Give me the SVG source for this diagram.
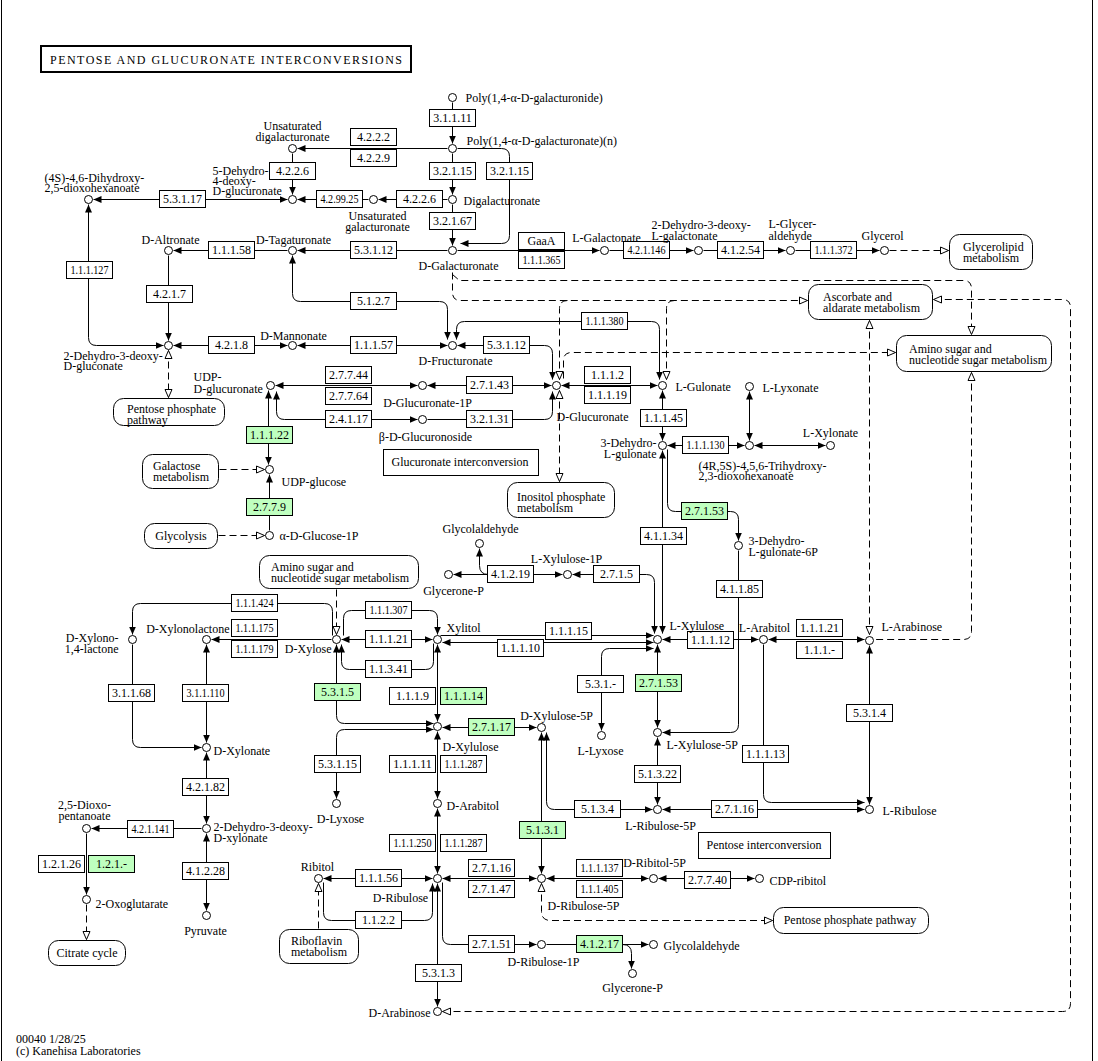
<svg xmlns="http://www.w3.org/2000/svg" width="1098" height="1061" viewBox="0 0 1098 1061">
<style>
text{font-family:"Liberation Serif","Times New Roman",serif;font-size:12px;fill:#000}
.c{fill:none;stroke:#000;stroke-width:1}
.e{marker-end:url(#a)}
.b{marker-start:url(#a);marker-end:url(#a)}
.d{stroke-dasharray:7,4}
.he{marker-end:url(#h)}
.hb{marker-start:url(#h);marker-end:url(#h)}
.hs{marker-start:url(#h)}
.enz rect{fill:#fff;stroke:#000;stroke-width:1}
.enz.g rect{fill:#bfffbf}
.enz text{text-anchor:middle}
.cpd circle{fill:#fff;stroke:#000;stroke-width:1}
.map rect{fill:#fff;stroke:#000;stroke-width:1}
.m{text-anchor:middle}
.r{text-anchor:end}
</style>
<defs>
<marker id="a" viewBox="0 0 8 7" refX="8" refY="3.5" markerWidth="8" markerHeight="7" markerUnits="userSpaceOnUse" orient="auto-start-reverse"><path d="M0,0L8,3.5L0,7z" fill="#000"/></marker>
<marker id="h" viewBox="-1 -1 10 9" refX="8" refY="3.5" markerWidth="10" markerHeight="9" markerUnits="userSpaceOnUse" orient="auto-start-reverse"><path d="M0,0L8,3.5L0,7z" fill="#fff" stroke="#000" stroke-width="1"/></marker>
</defs>
<rect width="1098" height="1061" fill="#fff"/>
<path d="M1.5,0V1061M1092.5,0V1061" stroke="#000" fill="none"/>
<g id="title"><rect x="41" y="46" width="370" height="26" fill="#fff" stroke="#000" stroke-width="2"/><text x="226" y="64" class="m" textLength="352" lengthAdjust="spacing">PENTOSE AND GLUCURONATE INTERCONVERSIONS</text></g>
<g id="connectors" transform="translate(0.5,0.5)">
<path class="c e" d="M452,102V143"/>
<path class="c e" d="M447,148H297"/>
<path class="c e" d="M292,153V194"/>
<path class="c e" d="M452,153V194"/>
<path class="c e" d="M457,148H501Q509,148 509,156V235Q509,243 501,243H460"/>
<path class="c e" d="M447,199H378"/>
<path class="c e" d="M368,199H297"/>
<path class="c b" d="M287,199H93"/>
<path class="c e" d="M452,204V245"/>
<path class="c e" d="M447,250H297"/>
<path class="c e" d="M287,250H173"/>
<path class="c e" d="M457,250H599"/>
<path class="c e" d="M609,250H693"/>
<path class="c e" d="M703,250H785"/>
<path class="c e" d="M795,250H879"/>
<path class="c b" d="M88,204V337Q88,345 96,345H163"/>
<path class="c e" d="M168,255V340"/>
<path class="c b" d="M287,345H173"/>
<path class="c b" d="M447,345H297"/>
<path class="c b" d="M292,255V293Q292,301 300,301H439Q447,301 447,309V339"/>
<path class="c b" d="M456,339V329Q456,321 464,321H651Q659,321 659,329V379"/>
<path class="c b" d="M457,345H544Q552,345 552,353V379"/>
<path class="c b" d="M417,385H275"/>
<path class="c b" d="M551,385H427"/>
<path class="c b" d="M561,385H657"/>
<path class="c b" d="M417,419H284Q276,419 276,411V391"/>
<path class="c e" d="M427,419H544Q552,419 552,411V391"/>
<path class="c b" d="M662,390V440"/>
<path class="c b" d="M667,445H744"/>
<path class="c b" d="M749,391V440"/>
<path class="c b" d="M754,445H825"/>
<path class="c e" d="M667,449V503Q667,511 675,511H730Q738,511 738,519V540"/>
<path class="c b" d="M662,450V633"/>
<path class="c e" d="M738,550V724Q738,732 730,732H662"/>
<path class="c b" d="M562,574H453"/>
<path class="c e" d="M488,574Q479,574 479,565V548"/>
<path class="c b" d="M654,633V582Q654,574 646,574H572"/>
<path class="c e" d="M332,635V611Q332,603 324,603H140Q132,603 132,611V634"/>
<path class="c e" d="M331,639H211"/>
<path class="c e" d="M343,635V618Q343,610 351,610H429Q437,610 437,618V634"/>
<path class="c b" d="M341,639H432"/>
<path class="c e" d="M433,643V661Q433,669 425,669H349Q341,669 341,661V644"/>
<path class="c b" d="M336,644V715Q336,723 344,723H433"/>
<path class="c b" d="M433,729H344Q336,729 336,737V798"/>
<path class="c b" d="M437,644V721"/>
<path class="c e" d="M440,635H653"/>
<path class="c b" d="M653,642H442"/>
<path class="c b" d="M662,639H758"/>
<path class="c b" d="M768,639H864"/>
<path class="c b" d="M653,648H609Q601,648 601,656V730"/>
<path class="c b" d="M657,644V727"/>
<path class="c b" d="M657,737V804"/>
<path class="c b" d="M869,804V645"/>
<path class="c e" d="M763,644V794Q763,802 771,802H864"/>
<path class="c b" d="M662,809H864"/>
<path class="c b" d="M652,809H554Q546,809 546,801V732"/>
<path class="c b" d="M442,727H536"/>
<path class="c b" d="M541,732V873"/>
<path class="c b" d="M437,731V798"/>
<path class="c b" d="M437,808V873"/>
<path class="c b" d="M323,878H432"/>
<path class="c e" d="M323,882V912Q323,920 331,920H424Q432,920 432,912V883"/>
<path class="c b" d="M437,883V1006"/>
<path class="c b" d="M442,878H536"/>
<path class="c b" d="M546,878H648"/>
<path class="c b" d="M658,878H754"/>
<path class="c e" d="M442,882V936Q442,944 450,944H536"/>
<path class="c e" d="M546,944H648"/>
<path class="c e" d="M622,944Q631,944 631,953V968"/>
<path class="c b" d="M268,464V390"/>
<path class="c e" d="M269,530V474"/>
<path class="c e" d="M132,644V739Q132,747 140,747H201"/>
<path class="c b" d="M206,644V742"/>
<path class="c b" d="M206,752V823"/>
<path class="c e" d="M201,828H91"/>
<path class="c e" d="M86,833V894"/>
<path class="c b" d="M206,833V910"/>
<path class="c d he" d="M889,250H948"/>
<path class="c d hb" d="M442,1011H1062Q1070,1011 1070,1003V307Q1070,299 1062,299H933"/>
<path class="c d hb" d="M869,320V634"/>
<path class="c d hs" d="M971,372V631Q971,639 963,639H874"/>
<path class="c d he" d="M452,274L459,280H963Q971,280 971,288V334"/>
<path class="c d he" d="M452,272V292Q452,300 460,300H807"/>
<path class="c d hs" d="M559,379V308Q559,300 567,300"/>
<path class="c d hs" d="M666,379V308Q666,300 674,300"/>
<path class="c d he" d="M563,378V360Q563,352 571,352H895"/>
<path class="c d hb" d="M559,390V481"/>
<path class="c d hb" d="M168,350V397"/>
<path class="c d he" d="M219,469H264"/>
<path class="c d he" d="M218,535H264"/>
<path class="c d he" d="M336,589V634"/>
<path class="c d he" d="M318,928V883"/>
<path class="c d hb" d="M541,883V911Q541,920 550,920H772"/>
<path class="c d he" d="M86,904V939"/>
</g>
<g id="maps">
<g id="m-glycerolipid" class="map"><rect x="949.5" y="234.5" width="83" height="35" rx="10"/><text x="963" y="251">Glycerolipid</text><text x="963" y="262">metabolism</text></g>
<g id="m-ascorbate" class="map"><rect x="808.5" y="284.5" width="124" height="35" rx="10"/><text x="823" y="301">Ascorbate and</text><text x="823" y="312">aldarate metabolism</text></g>
<g id="m-aminosugar1" class="map"><rect x="896.5" y="335.5" width="155" height="36" rx="10"/><text x="909" y="353">Amino sugar and</text><text x="909" y="364">nucleotide sugar metabolism</text></g>
<g id="m-ppp1" class="map"><rect x="113.5" y="398.5" width="111" height="27" rx="10"/><text x="127" y="413">Pentose phosphate</text><text x="127" y="424">pathway</text></g>
<g id="m-inositol" class="map"><rect x="507.5" y="482.5" width="107" height="35" rx="10"/><text x="517" y="501">Inositol phosphate</text><text x="517" y="512">metabolism</text></g>
<g id="m-galactose" class="map"><rect x="142.5" y="454.5" width="76" height="34" rx="10"/><text x="153" y="470">Galactose</text><text x="153" y="481">metabolism</text></g>
<g id="m-glycolysis" class="map"><rect x="144.5" y="523.5" width="73" height="25" rx="10"/><text x="181" y="540" class="m">Glycolysis</text></g>
<g id="m-aminosugar2" class="map"><rect x="259.5" y="555.5" width="159" height="33" rx="10"/><text x="271" y="571">Amino sugar and</text><text x="271" y="582">nucleotide sugar metabolism</text></g>
<g id="m-citrate" class="map"><rect x="48.5" y="940.5" width="77" height="25" rx="10"/><text x="87" y="957" class="m">Citrate cycle</text></g>
<g id="m-riboflavin" class="map"><rect x="279.5" y="929.5" width="79" height="34" rx="10"/><text x="291" y="945">Riboflavin</text><text x="291" y="956">metabolism</text></g>
<g id="m-ppp2" class="map"><rect x="773.5" y="907.5" width="155" height="26" rx="10"/><text x="850" y="924" class="m">Pentose phosphate pathway</text></g>
<g id="l-glucuronate"><rect x="383.5" y="449.5" width="155" height="26" fill="#fff" stroke="#000"/><text x="460" y="466" class="m">Glucuronate interconversion</text></g>
<g id="l-pentose"><rect x="698.5" y="832.5" width="132" height="26" fill="#fff" stroke="#000"/><text x="764" y="849" class="m">Pentose interconversion</text></g>
</g>
<g id="enzymes" transform="translate(0.5,0)">
<g id="e1" class="enz"><rect x="429" y="109.5" width="46" height="17"/><text x="452" y="122">3.1.1.11</text></g>
<g id="e2" class="enz"><rect x="350" y="128.5" width="46" height="17"/><text x="373" y="141">4.2.2.2</text></g>
<g id="e3" class="enz"><rect x="350" y="149.5" width="46" height="17"/><text x="373" y="162">4.2.2.9</text></g>
<g id="e4" class="enz"><rect x="429" y="162.5" width="46" height="17"/><text x="452" y="175">3.2.1.15</text></g>
<g id="e5" class="enz"><rect x="486" y="162.5" width="46" height="17"/><text x="509" y="175">3.2.1.15</text></g>
<g id="e6" class="enz"><rect x="269" y="162.5" width="46" height="17"/><text x="292" y="175">4.2.2.6</text></g>
<g id="e7" class="enz"><rect x="396" y="190.5" width="46" height="17"/><text x="419" y="203">4.2.2.6</text></g>
<g id="e8" class="enz"><rect x="316" y="190.5" width="46" height="17"/><text x="339" y="203" textLength="38" lengthAdjust="spacingAndGlyphs">4.2.99.25</text></g>
<g id="e9" class="enz"><rect x="159" y="190.5" width="46" height="17"/><text x="182" y="203">5.3.1.17</text></g>
<g id="e10" class="enz"><rect x="429" y="212.5" width="46" height="17"/><text x="452" y="225">3.2.1.67</text></g>
<g id="e11" class="enz"><rect x="350" y="241.5" width="46" height="17"/><text x="373" y="254">5.3.1.12</text></g>
<g id="e12" class="enz"><rect x="208" y="241.5" width="46" height="17"/><text x="231" y="254">1.1.1.58</text></g>
<g id="e13" class="enz"><rect x="518" y="232.5" width="46" height="17"/><text x="541" y="245">GaaA</text></g>
<g id="e14" class="enz"><rect x="518" y="251.5" width="46" height="17"/><text x="541" y="264" textLength="38" lengthAdjust="spacingAndGlyphs">1.1.1.365</text></g>
<g id="e15" class="enz"><rect x="623" y="241.5" width="46" height="17"/><text x="646" y="254" textLength="38" lengthAdjust="spacingAndGlyphs">4.2.1.146</text></g>
<g id="e16" class="enz"><rect x="717" y="241.5" width="46" height="17"/><text x="740" y="254">4.1.2.54</text></g>
<g id="e17" class="enz"><rect x="810" y="241.5" width="46" height="17"/><text x="833" y="254" textLength="38" lengthAdjust="spacingAndGlyphs">1.1.1.372</text></g>
<g id="e18" class="enz"><rect x="66" y="261.5" width="46" height="17"/><text x="89" y="274" textLength="38" lengthAdjust="spacingAndGlyphs">1.1.1.127</text></g>
<g id="e19" class="enz"><rect x="146" y="285.5" width="46" height="17"/><text x="169" y="298">4.2.1.7</text></g>
<g id="e20" class="enz"><rect x="350" y="292.5" width="46" height="17"/><text x="373" y="305">5.1.2.7</text></g>
<g id="e21" class="enz"><rect x="581" y="312.5" width="46" height="17"/><text x="604" y="325" textLength="38" lengthAdjust="spacingAndGlyphs">1.1.1.380</text></g>
<g id="e22" class="enz"><rect x="208" y="336.5" width="46" height="17"/><text x="231" y="349">4.2.1.8</text></g>
<g id="e23" class="enz"><rect x="350" y="336.5" width="46" height="17"/><text x="373" y="349">1.1.1.57</text></g>
<g id="e24" class="enz"><rect x="483" y="336.5" width="46" height="17"/><text x="506" y="349">5.3.1.12</text></g>
<g id="e25" class="enz"><rect x="325" y="366.5" width="46" height="17"/><text x="348" y="379">2.7.7.44</text></g>
<g id="e26" class="enz"><rect x="325" y="387.5" width="46" height="17"/><text x="348" y="400">2.7.7.64</text></g>
<g id="e27" class="enz"><rect x="466" y="376.5" width="46" height="17"/><text x="489" y="389">2.7.1.43</text></g>
<g id="e28" class="enz"><rect x="584" y="366.5" width="46" height="17"/><text x="607" y="379">1.1.1.2</text></g>
<g id="e29" class="enz"><rect x="584" y="386.5" width="46" height="17"/><text x="607" y="399">1.1.1.19</text></g>
<g id="e30" class="enz"><rect x="325" y="410.5" width="46" height="17"/><text x="348" y="423">2.4.1.17</text></g>
<g id="e31" class="enz"><rect x="466" y="410.5" width="46" height="17"/><text x="489" y="423">3.2.1.31</text></g>
<g id="e32" class="enz g"><rect x="246" y="426.5" width="46" height="17"/><text x="269" y="439">1.1.1.22</text></g>
<g id="e33" class="enz"><rect x="640" y="409.5" width="46" height="17"/><text x="663" y="422">1.1.1.45</text></g>
<g id="e34" class="enz"><rect x="682" y="436.5" width="46" height="17"/><text x="705" y="449" textLength="38" lengthAdjust="spacingAndGlyphs">1.1.1.130</text></g>
<g id="e35" class="enz g"><rect x="246" y="498.5" width="46" height="17"/><text x="269" y="511">2.7.7.9</text></g>
<g id="e36" class="enz g"><rect x="681" y="502.5" width="46" height="17"/><text x="704" y="515">2.7.1.53</text></g>
<g id="e37" class="enz"><rect x="640" y="527.5" width="46" height="17"/><text x="663" y="540">4.1.1.34</text></g>
<g id="e38" class="enz"><rect x="487" y="565.5" width="46" height="17"/><text x="510" y="578">4.1.2.19</text></g>
<g id="e39" class="enz"><rect x="593" y="565.5" width="46" height="17"/><text x="616" y="578">2.7.1.5</text></g>
<g id="e40" class="enz"><rect x="716" y="580.5" width="46" height="17"/><text x="739" y="593">4.1.1.85</text></g>
<g id="e41" class="enz"><rect x="231" y="594.5" width="46" height="17"/><text x="254" y="607" textLength="38" lengthAdjust="spacingAndGlyphs">1.1.1.424</text></g>
<g id="e42" class="enz"><rect x="365" y="601.5" width="46" height="17"/><text x="388" y="614" textLength="38" lengthAdjust="spacingAndGlyphs">1.1.1.307</text></g>
<g id="e43" class="enz"><rect x="231" y="619.5" width="46" height="17"/><text x="254" y="632" textLength="38" lengthAdjust="spacingAndGlyphs">1.1.1.175</text></g>
<g id="e44" class="enz"><rect x="231" y="640.5" width="46" height="17"/><text x="254" y="653" textLength="38" lengthAdjust="spacingAndGlyphs">1.1.1.179</text></g>
<g id="e45" class="enz"><rect x="365" y="630.5" width="46" height="17"/><text x="388" y="643">1.1.1.21</text></g>
<g id="e46" class="enz"><rect x="365" y="660.5" width="46" height="17"/><text x="388" y="673">1.1.3.41</text></g>
<g id="e47" class="enz"><rect x="545" y="622.5" width="46" height="17"/><text x="568" y="635">1.1.1.15</text></g>
<g id="e48" class="enz"><rect x="497" y="639.5" width="46" height="17"/><text x="520" y="652">1.1.1.10</text></g>
<g id="e49" class="enz"><rect x="687" y="631.5" width="46" height="17"/><text x="710" y="644">1.1.1.12</text></g>
<g id="e50" class="enz"><rect x="796" y="619.5" width="46" height="17"/><text x="819" y="632">1.1.1.21</text></g>
<g id="e51" class="enz"><rect x="796" y="641.5" width="46" height="17"/><text x="819" y="654">1.1.1.-</text></g>
<g id="e52" class="enz g"><rect x="314" y="683.5" width="46" height="17"/><text x="337" y="696">5.3.1.5</text></g>
<g id="e53" class="enz"><rect x="389" y="687.5" width="46" height="17"/><text x="412" y="700">1.1.1.9</text></g>
<g id="e54" class="enz g"><rect x="440" y="687.5" width="46" height="17"/><text x="463" y="700">1.1.1.14</text></g>
<g id="e55" class="enz"><rect x="108" y="684.5" width="46" height="17"/><text x="131" y="697">3.1.1.68</text></g>
<g id="e56" class="enz"><rect x="182" y="684.5" width="46" height="17"/><text x="205" y="697" textLength="38" lengthAdjust="spacingAndGlyphs">3.1.1.110</text></g>
<g id="e57" class="enz"><rect x="577" y="675.5" width="46" height="17"/><text x="600" y="688">5.3.1.-</text></g>
<g id="e58" class="enz g"><rect x="635" y="674.5" width="46" height="17"/><text x="658" y="687">2.7.1.53</text></g>
<g id="e59" class="enz"><rect x="846" y="704.5" width="46" height="17"/><text x="869" y="717">5.3.1.4</text></g>
<g id="e60" class="enz g"><rect x="468" y="718.5" width="46" height="17"/><text x="491" y="731">2.7.1.17</text></g>
<g id="e61" class="enz"><rect x="742" y="745.5" width="46" height="17"/><text x="765" y="758">1.1.1.13</text></g>
<g id="e62" class="enz"><rect x="314" y="755.5" width="46" height="17"/><text x="337" y="768">5.3.1.15</text></g>
<g id="e63" class="enz"><rect x="389" y="755.5" width="46" height="17"/><text x="412" y="768">1.1.1.11</text></g>
<g id="e64" class="enz"><rect x="440" y="755.5" width="46" height="17"/><text x="463" y="768" textLength="38" lengthAdjust="spacingAndGlyphs">1.1.1.287</text></g>
<g id="e65" class="enz"><rect x="634" y="765.5" width="46" height="17"/><text x="657" y="778">5.1.3.22</text></g>
<g id="e66" class="enz"><rect x="182" y="778.5" width="46" height="17"/><text x="205" y="791">4.2.1.82</text></g>
<g id="e67" class="enz"><rect x="574" y="800.5" width="46" height="17"/><text x="597" y="813">5.1.3.4</text></g>
<g id="e68" class="enz"><rect x="711" y="800.5" width="46" height="17"/><text x="734" y="813">2.7.1.16</text></g>
<g id="e69" class="enz"><rect x="127" y="820.5" width="46" height="17"/><text x="150" y="833" textLength="38" lengthAdjust="spacingAndGlyphs">4.2.1.141</text></g>
<g id="e70" class="enz g"><rect x="519" y="821.5" width="46" height="17"/><text x="542" y="834">5.1.3.1</text></g>
<g id="e71" class="enz"><rect x="389" y="834.5" width="46" height="17"/><text x="412" y="847" textLength="38" lengthAdjust="spacingAndGlyphs">1.1.1.250</text></g>
<g id="e72" class="enz"><rect x="440" y="834.5" width="46" height="17"/><text x="463" y="847" textLength="38" lengthAdjust="spacingAndGlyphs">1.1.1.287</text></g>
<g id="e73" class="enz"><rect x="38" y="855.5" width="46" height="17"/><text x="61" y="868">1.2.1.26</text></g>
<g id="e74" class="enz g"><rect x="88" y="855.5" width="46" height="17"/><text x="111" y="868">1.2.1.-</text></g>
<g id="e75" class="enz"><rect x="182" y="862.5" width="46" height="17"/><text x="205" y="875">4.1.2.28</text></g>
<g id="e76" class="enz"><rect x="355" y="869.5" width="46" height="17"/><text x="378" y="882">1.1.1.56</text></g>
<g id="e77" class="enz"><rect x="468" y="859.5" width="46" height="17"/><text x="491" y="872">2.7.1.16</text></g>
<g id="e78" class="enz"><rect x="468" y="880.5" width="46" height="17"/><text x="491" y="893">2.7.1.47</text></g>
<g id="e79" class="enz"><rect x="576" y="859.5" width="46" height="17"/><text x="599" y="872" textLength="38" lengthAdjust="spacingAndGlyphs">1.1.1.137</text></g>
<g id="e80" class="enz"><rect x="576" y="880.5" width="46" height="17"/><text x="599" y="893" textLength="38" lengthAdjust="spacingAndGlyphs">1.1.1.405</text></g>
<g id="e81" class="enz"><rect x="684" y="871.5" width="46" height="17"/><text x="707" y="884">2.7.7.40</text></g>
<g id="e82" class="enz"><rect x="355" y="911.5" width="46" height="17"/><text x="378" y="924">1.1.2.2</text></g>
<g id="e83" class="enz"><rect x="468" y="935.5" width="46" height="17"/><text x="491" y="948">2.7.1.51</text></g>
<g id="e84" class="enz g"><rect x="576" y="935.5" width="46" height="17"/><text x="599" y="948">4.1.2.17</text></g>
<g id="e85" class="enz"><rect x="415" y="964.5" width="46" height="17"/><text x="438" y="977">5.3.1.3</text></g>
</g>
<g id="compounds" transform="translate(0.5,0.5)">
<g id="c-polygalacturonide" class="cpd"><circle cx="452" cy="97" r="4"/><text x="465" y="101">Poly(1,4-α-D-galacturonide)</text></g>
<g id="c-polyn" class="cpd"><circle cx="452" cy="148" r="4"/><text x="466" y="144">Poly(1,4-α-D-galacturonate)(n)</text></g>
<g id="c-unsatdigal" class="cpd"><circle cx="292" cy="148" r="4"/><text x="292" y="129" class="m">Unsaturated</text><text x="292" y="140" class="m">digalacturonate</text></g>
<g id="c-5dehydro" class="cpd"><circle cx="292" cy="199" r="4"/><text x="212" y="174">5-Dehydro-</text><text x="212" y="184">4-deoxy-</text><text x="212" y="194">D-glucuronate</text></g>
<g id="c-unsatgal" class="cpd"><circle cx="373" cy="199" r="4"/><text x="377" y="219" class="m">Unsaturated</text><text x="377" y="230" class="m">galacturonate</text></g>
<g id="c-digal" class="cpd"><circle cx="452" cy="199" r="4"/><text x="463" y="204">Digalacturonate</text></g>
<g id="c-4s" class="cpd"><circle cx="88" cy="199" r="4"/><text x="44" y="181">(4S)-4,6-Dihydroxy-</text><text x="44" y="191">2,5-dioxohexanoate</text></g>
<g id="c-dgalacturonate" class="cpd"><circle cx="452" cy="250" r="4"/><text x="458" y="269" class="m">D-Galacturonate</text></g>
<g id="c-dtag" class="cpd"><circle cx="292" cy="250" r="4"/><text x="293" y="243" class="m">D-Tagaturonate</text></g>
<g id="c-daltronate" class="cpd"><circle cx="168" cy="250" r="4"/><text x="170" y="243" class="m">D-Altronate</text></g>
<g id="c-lgalactonate" class="cpd"><circle cx="604" cy="250" r="4"/><text x="606" y="241" class="m">L-Galactonate</text></g>
<g id="c-2dhlgal" class="cpd"><circle cx="698" cy="250" r="4"/><text x="651" y="228">2-Dehydro-3-deoxy-</text><text x="651" y="239">L-galactonate</text></g>
<g id="c-lglyceraldehyde" class="cpd"><circle cx="790" cy="250" r="4"/><text x="768" y="227">L-Glycer-</text><text x="768" y="239">aldehyde</text></g>
<g id="c-glycerol" class="cpd"><circle cx="884" cy="250" r="4"/><text x="882" y="239" class="m">Glycerol</text></g>
<g id="c-2dhdgluconate" class="cpd"><circle cx="168" cy="345" r="4"/><text x="63" y="359">2-Dehydro-3-deoxy-</text><text x="63" y="369">D-gluconate</text></g>
<g id="c-dmannonate" class="cpd"><circle cx="292" cy="345" r="4"/><text x="293" y="339" class="m">D-Mannonate</text></g>
<g id="c-dfructuronate" class="cpd"><circle cx="452" cy="345" r="4"/><text x="455" y="364" class="m">D-Fructuronate</text></g>
<g id="c-udpglucuronate" class="cpd"><circle cx="270" cy="385" r="4"/><text x="193" y="380">UDP-</text><text x="193" y="392">D-glucuronate</text></g>
<g id="c-dglucuronate1p" class="cpd"><circle cx="422" cy="385" r="4"/><text x="427" y="406" class="m">D-Glucuronate-1P</text></g>
<g id="c-dglucuronate" class="cpd"><circle cx="556" cy="385" r="4"/><text x="556" y="420">D-Glucuronate</text></g>
<g id="c-lgulonate" class="cpd"><circle cx="662" cy="385" r="4"/><text x="675" y="390">L-Gulonate</text></g>
<g id="c-llyxonate" class="cpd"><circle cx="749" cy="386" r="4"/><text x="762" y="391">L-Lyxonate</text></g>
<g id="c-glucuronoside" class="cpd"><circle cx="422" cy="419" r="4"/><text x="425" y="440" class="m">β-D-Glucuronoside</text></g>
<g id="c-3dhlgulonate" class="cpd"><circle cx="662" cy="445" r="4"/><text x="656" y="446" class="r">3-Dehydro-</text><text x="656" y="457" class="r">L-gulonate</text></g>
<g id="c-4r5s" class="cpd"><circle cx="749" cy="445" r="4"/><text x="698" y="469">(4R,5S)-4,5,6-Trihydroxy-</text><text x="698" y="479">2,3-dioxohexanoate</text></g>
<g id="c-lxylonate" class="cpd"><circle cx="830" cy="445" r="4"/><text x="830" y="436" class="m">L-Xylonate</text></g>
<g id="c-udpglucose" class="cpd"><circle cx="269" cy="469" r="4"/><text x="281" y="485">UDP-glucose</text></g>
<g id="c-aglucose1p" class="cpd"><circle cx="269" cy="535" r="4"/><text x="279" y="539">α-D-Glucose-1P</text></g>
<g id="c-glycolaldehyde1" class="cpd"><circle cx="479" cy="543" r="4"/><text x="480" y="532" class="m">Glycolaldehyde</text></g>
<g id="c-3dhlgulonate6p" class="cpd"><circle cx="738" cy="545" r="4"/><text x="748" y="544">3-Dehydro-</text><text x="748" y="555">L-gulonate-6P</text></g>
<g id="c-glyceronep1" class="cpd"><circle cx="448" cy="574" r="4"/><text x="453" y="594" class="m">Glycerone-P</text></g>
<g id="c-lxylulose1p" class="cpd"><circle cx="567" cy="574" r="4"/><text x="566" y="562" class="m">L-Xylulose-1P</text></g>
<g id="c-dxylono14lactone" class="cpd"><circle cx="132" cy="639" r="4"/><text x="118" y="641" class="r">D-Xylono-</text><text x="118" y="652" class="r">1,4-lactone</text></g>
<g id="c-dxylonolactone" class="cpd"><circle cx="206" cy="639" r="4"/><text x="229" y="632" class="r">D-Xylonolactone</text></g>
<g id="c-dxylose" class="cpd"><circle cx="336" cy="639" r="4"/><text x="331" y="652" class="r">D-Xylose</text></g>
<g id="c-xylitol" class="cpd"><circle cx="437" cy="639" r="4"/><text x="446" y="631">Xylitol</text></g>
<g id="c-lxylulose" class="cpd"><circle cx="657" cy="639" r="4"/><text x="669" y="629">L-Xylulose</text></g>
<g id="c-larabitol" class="cpd"><circle cx="763" cy="639" r="4"/><text x="764" y="631" class="m">L-Arabitol</text></g>
<g id="c-larabinose" class="cpd"><circle cx="869" cy="640" r="4"/><text x="881" y="630">L-Arabinose</text></g>
<g id="c-dxylulose" class="cpd"><circle cx="437" cy="726" r="4"/><text x="442" y="750">D-Xylulose</text></g>
<g id="c-dxylulose5p" class="cpd"><circle cx="541" cy="727" r="4"/><text x="556" y="719" class="m">D-Xylulose-5P</text></g>
<g id="c-lxylulose5p" class="cpd"><circle cx="657" cy="732" r="4"/><text x="666" y="748">L-Xylulose-5P</text></g>
<g id="c-llyxose" class="cpd"><circle cx="601" cy="735" r="4"/><text x="600" y="754" class="m">L-Lyxose</text></g>
<g id="c-dxylonate" class="cpd"><circle cx="206" cy="747" r="4"/><text x="213" y="754">D-Xylonate</text></g>
<g id="c-dlyxose" class="cpd"><circle cx="336" cy="803" r="4"/><text x="340" y="822" class="m">D-Lyxose</text></g>
<g id="c-darabitol" class="cpd"><circle cx="437" cy="803" r="4"/><text x="446" y="809">D-Arabitol</text></g>
<g id="c-lribulose5p" class="cpd"><circle cx="657" cy="809" r="4"/><text x="660" y="829" class="m">L-Ribulose-5P</text></g>
<g id="c-lribulose" class="cpd"><circle cx="869" cy="809" r="4"/><text x="882" y="814">L-Ribulose</text></g>
<g id="c-25dioxo" class="cpd"><circle cx="86" cy="828" r="4"/><text x="84" y="808" class="m">2,5-Dioxo-</text><text x="84" y="819" class="m">pentanoate</text></g>
<g id="c-2dhdxylonate" class="cpd"><circle cx="206" cy="828" r="4"/><text x="213" y="830">2-Dehydro-3-deoxy-</text><text x="213" y="841">D-xylonate</text></g>
<g id="c-ribitol" class="cpd"><circle cx="318" cy="878" r="4"/><text x="317" y="870" class="m">Ribitol</text></g>
<g id="c-dribulose" class="cpd"><circle cx="437" cy="878" r="4"/><text x="400" y="901" class="m">D-Ribulose</text></g>
<g id="c-dribulose5p" class="cpd"><circle cx="541" cy="878" r="4"/><text x="547" y="909">D-Ribulose-5P</text></g>
<g id="c-dribitol5p" class="cpd"><circle cx="653" cy="878" r="4"/><text x="654" y="866" class="m">D-Ribitol-5P</text></g>
<g id="c-cdpribitol" class="cpd"><circle cx="759" cy="878" r="4"/><text x="769" y="884">CDP-ribitol</text></g>
<g id="c-2oxoglutarate" class="cpd"><circle cx="86" cy="899" r="4"/><text x="95" y="907">2-Oxoglutarate</text></g>
<g id="c-pyruvate" class="cpd"><circle cx="206" cy="915" r="4"/><text x="205" y="934" class="m">Pyruvate</text></g>
<g id="c-dribulose1p" class="cpd"><circle cx="541" cy="944" r="4"/><text x="543" y="965" class="m">D-Ribulose-1P</text></g>
<g id="c-glycolaldehyde2" class="cpd"><circle cx="653" cy="944" r="4"/><text x="663" y="949">Glycolaldehyde</text></g>
<g id="c-glyceronep2" class="cpd"><circle cx="632" cy="973" r="4"/><text x="632" y="991" class="m">Glycerone-P</text></g>
<g id="c-darabinose" class="cpd"><circle cx="437" cy="1011" r="4"/><text x="430" y="1016" class="r">D-Arabinose</text></g>
</g>
<g id="footer"><text x="16" y="1043">00040 1/28/25</text><text x="16" y="1055">(c) Kanehisa Laboratories</text></g>
</svg>
